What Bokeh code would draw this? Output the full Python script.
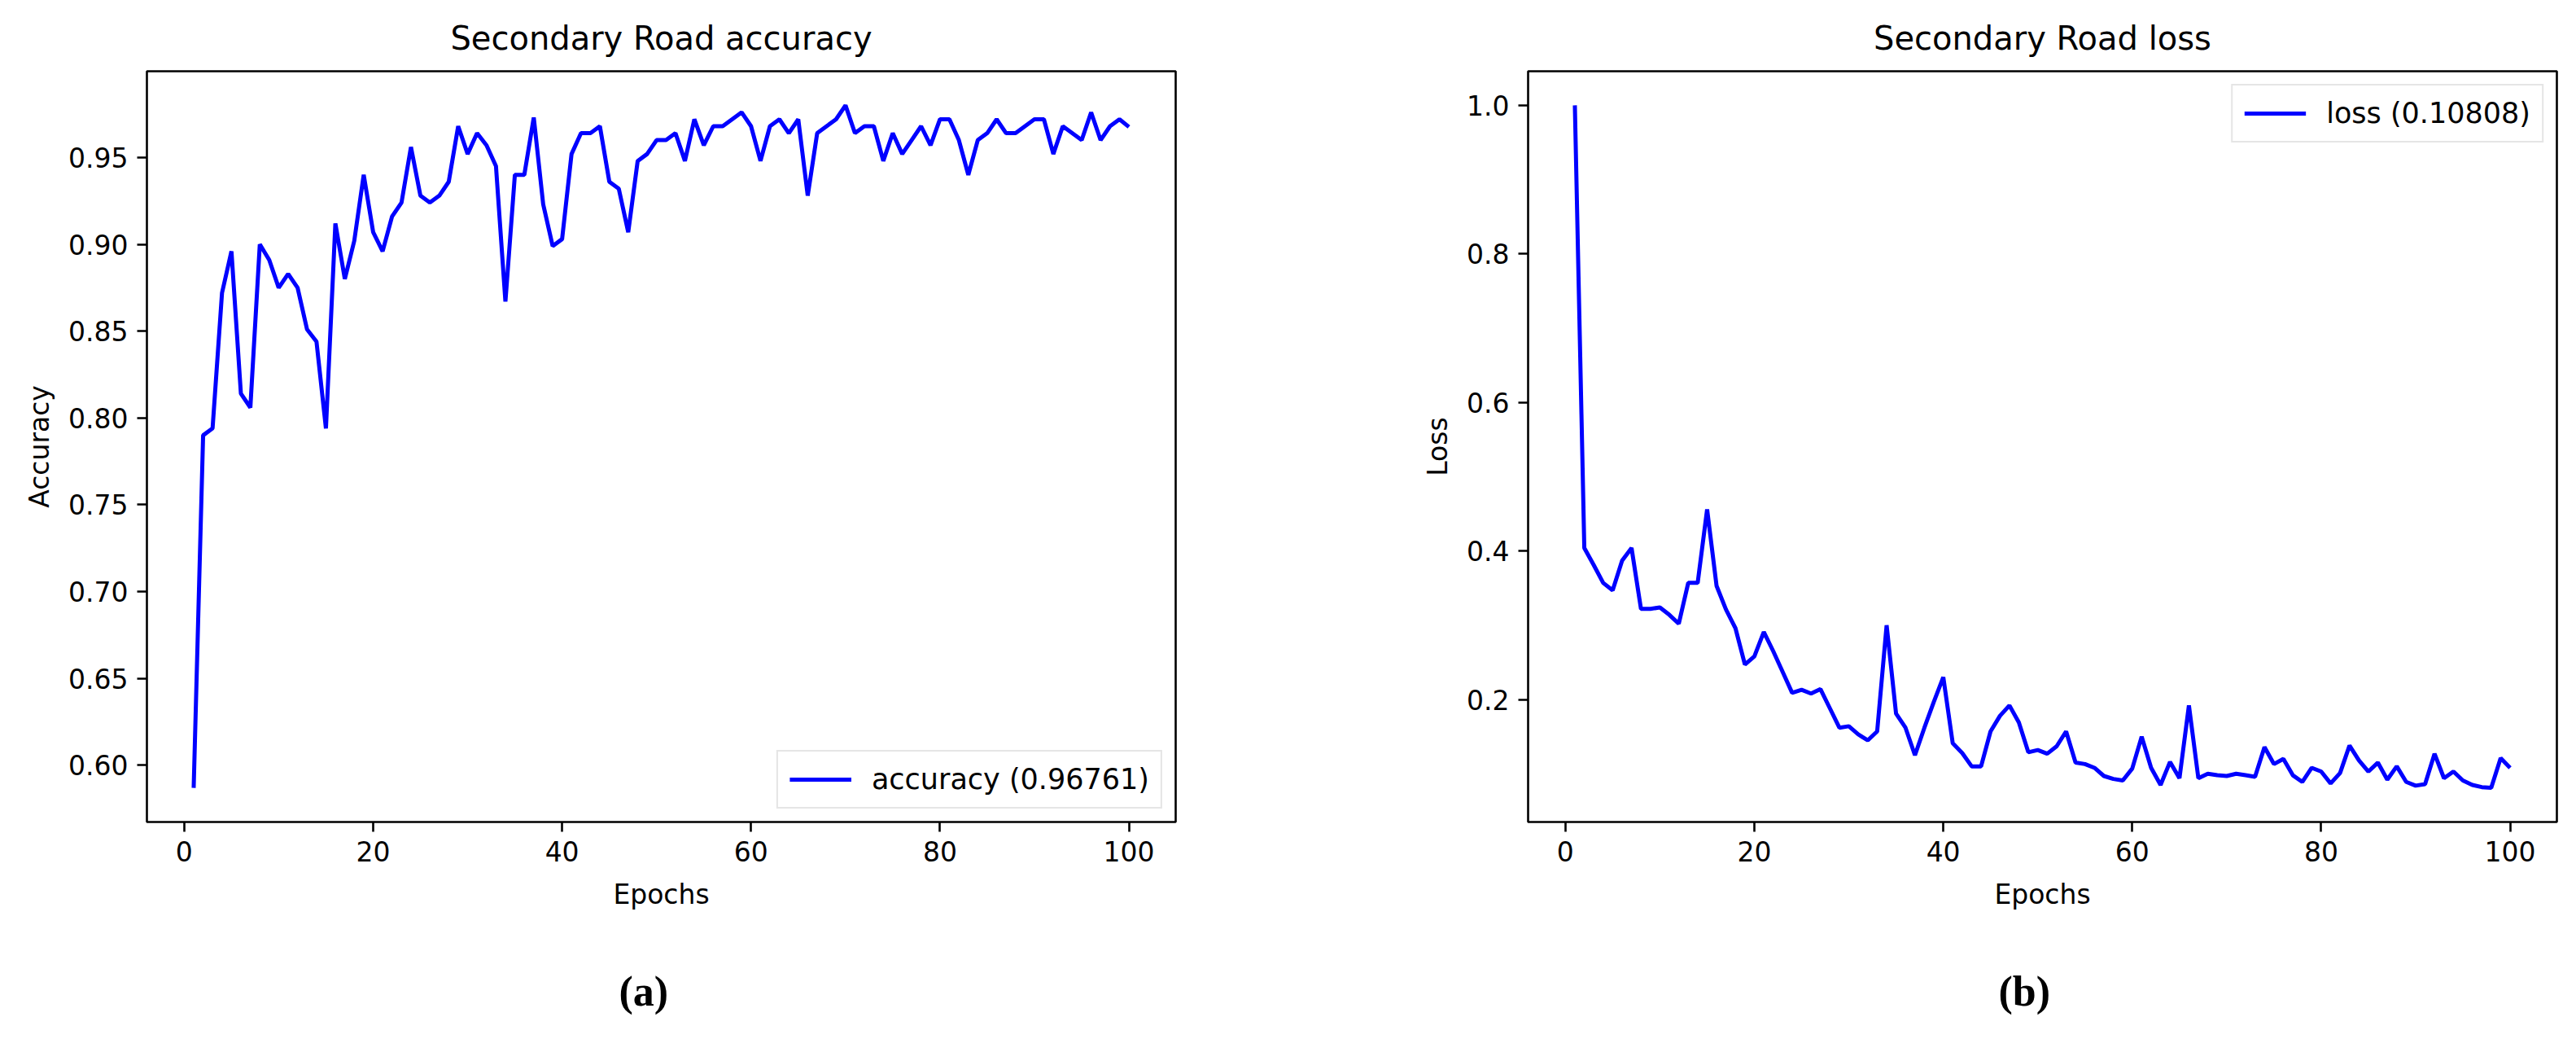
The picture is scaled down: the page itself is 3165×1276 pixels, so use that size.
from bokeh.plotting import figure
from bokeh.layouts import row
from bokeh.models import (FixedTicker, PrintfTickFormatter, Range1d, Legend,
                          LegendItem, Title, ColumnDataSource)
from bokeh.embed import file_html
from bokeh.resources import INLINE

# ---------------- data ----------------
epochs = list(range(1, 101))

accuracy = [
    0.587, 0.790, 0.794, 0.872, 0.896, 0.814, 0.806, 0.900, 0.891, 0.875,
    0.883, 0.875, 0.851, 0.844, 0.794, 0.912, 0.880, 0.902, 0.940, 0.907,
    0.896, 0.916, 0.924, 0.956, 0.928, 0.924, 0.928, 0.936, 0.968, 0.952,
    0.964, 0.957, 0.945, 0.867, 0.940, 0.940, 0.973, 0.923, 0.899, 0.903,
    0.952, 0.964, 0.964, 0.968, 0.936, 0.932, 0.907, 0.948, 0.952, 0.960,
    0.960, 0.964, 0.948, 0.972, 0.957, 0.968, 0.968, 0.972, 0.976, 0.968,
    0.948, 0.968, 0.972, 0.964, 0.972, 0.928, 0.964, 0.968, 0.972, 0.980,
    0.964, 0.968, 0.968, 0.948, 0.964, 0.952, 0.960, 0.968, 0.957, 0.972,
    0.972, 0.960, 0.940, 0.960, 0.964, 0.972, 0.964, 0.964, 0.968, 0.972,
    0.972, 0.952, 0.968, 0.964, 0.960, 0.976, 0.960, 0.968, 0.972, 0.96761,
]

loss = [
    1.000, 0.404, 0.381, 0.357, 0.347, 0.387, 0.404, 0.322, 0.322, 0.324,
    0.314, 0.302, 0.357, 0.357, 0.456, 0.353, 0.321, 0.296, 0.247, 0.258,
    0.291, 0.265, 0.237, 0.209, 0.213, 0.208, 0.214, 0.188, 0.162, 0.164,
    0.153, 0.145, 0.157, 0.300, 0.181, 0.162, 0.125, 0.162, 0.197, 0.230,
    0.141, 0.128, 0.110, 0.110, 0.157, 0.178, 0.192, 0.169, 0.129, 0.132,
    0.127, 0.137, 0.157, 0.115, 0.113, 0.108, 0.097, 0.093, 0.091, 0.107,
    0.150, 0.108, 0.085, 0.116, 0.094, 0.192, 0.094, 0.100, 0.098, 0.097,
    0.100, 0.098, 0.096, 0.136, 0.113, 0.120, 0.098, 0.089, 0.108, 0.103,
    0.087, 0.101, 0.138, 0.118, 0.103, 0.115, 0.092, 0.110, 0.089, 0.084,
    0.086, 0.127, 0.094, 0.103, 0.091, 0.085, 0.082, 0.081, 0.121, 0.10808,
]

x_ticks = [0, 20, 40, 60, 80, 100]
acc_ticks = [0.60, 0.65, 0.70, 0.75, 0.80, 0.85, 0.90, 0.95]
loss_ticks = [0.2, 0.4, 0.6, 0.8, 1.0]

acc_title = "Secondary Road accuracy"
loss_title = "Secondary Road loss"
acc_legend = "accuracy (0.96761)"
loss_legend = "loss (0.10808)"
x_label = "Epochs"
acc_ylabel = "Accuracy"
loss_ylabel = "Loss"
captions = ["(a)", "(b)"]

FONT = "DejaVu Sans"
BLUE = "#0000ff"
FRAME_W, FRAME_H = 1264, 922


def padded(vals, frac=0.05):
    lo, hi = min(vals), max(vals)
    m = (hi - lo) * frac
    return lo - m, hi + m


def make_panel(title, ylabel, yvals, yticks, yfmt, legend_label, legend_loc,
               caption, cap_offset, border_left, border_right):
    x0, x1 = padded(epochs)
    y0, y1 = padded(yvals)
    p = figure(frame_width=FRAME_W, frame_height=FRAME_H,
               x_range=Range1d(x0, x1), y_range=Range1d(y0, y1),
               output_backend="svg", toolbar_location=None,
               min_border_left=border_left, min_border_right=border_right,
               min_border_top=87, min_border_bottom=0)
    p.background_fill_color = "white"
    p.border_fill_color = "white"
    p.outline_line_color = "black"
    p.outline_line_width = 2.6
    p.outline_line_alpha = 1.0
    p.xgrid.visible = False
    p.ygrid.visible = False

    p.title.text = title
    p.title.text_font = FONT
    p.title.text_font_size = "40px"
    p.title.text_font_style = "normal"
    p.title.text_color = "#000000"
    p.title.align = "center"
    p.title.standoff = 36

    src = ColumnDataSource(dict(x=epochs, y=yvals))
    r = p.line("x", "y", source=src, line_color=BLUE, line_width=5)

    for ax in (p.xaxis[0], p.yaxis[0]):
        ax.axis_line_color = None
        ax.major_tick_out = 12
        ax.major_tick_in = 0
        ax.major_tick_line_width = 2.6
        ax.major_tick_line_color = "black"
        ax.minor_tick_out = 0
        ax.minor_tick_in = 0
        ax.major_label_standoff = 11
        ax.major_label_text_font = FONT
        ax.major_label_text_font_size = "33px"
        ax.major_label_text_color = "#000000"
        ax.axis_label_text_font = FONT
        ax.axis_label_text_font_size = "33px"
        ax.axis_label_text_font_style = "normal"
        ax.axis_label_text_color = "#000000"
        ax.axis_label_standoff = 13

    p.xaxis.ticker = FixedTicker(ticks=x_ticks)
    p.xaxis.formatter = PrintfTickFormatter(format="%d")
    p.xaxis.axis_label = x_label
    p.xaxis.axis_label_standoff = 18
    p.yaxis.ticker = FixedTicker(ticks=yticks)
    p.yaxis.formatter = PrintfTickFormatter(format=yfmt)
    p.yaxis.axis_label = ylabel

    leg = Legend(items=[LegendItem(label=legend_label, renderers=[r])],
                 location=legend_loc)
    leg.label_text_font = FONT
    leg.label_text_font_size = "35px"
    leg.label_text_color = "#000000"
    leg.glyph_width = 76
    leg.glyph_height = 38
    leg.label_height = 38
    leg.label_standoff = 25
    leg.padding = 14
    leg.margin = 16
    leg.spacing = 0
    leg.border_line_color = "#cccccc"
    leg.border_line_width = 2
    leg.background_fill_color = "white"
    leg.background_fill_alpha = 0.8
    p.add_layout(leg)

    # empty spacer between the axis and the sub-figure caption
    spacer = Title(text=" ", text_font_size="20px", standoff=40,
                   text_color="white")
    p.add_layout(spacer, "below")
    cap = Title(text=caption, align="left", offset=cap_offset,
                text_font="Liberation Serif", text_font_size="52px",
                text_font_style="bold", text_color="#000000", standoff=4)
    p.add_layout(cap, "below")
    return p


p1 = make_panel(acc_title, acc_ylabel, accuracy, acc_ticks, "%.2f", acc_legend,
                "bottom_right", captions[0], 580, 180, 184)
p2 = make_panel(loss_title, loss_ylabel, loss, loss_ticks, "%.1f", loss_legend,
                "top_right", captions[1], 578, 249, 10)

layout = row(p1, p2)
open("out.html", "w").write(file_html(layout, INLINE))
